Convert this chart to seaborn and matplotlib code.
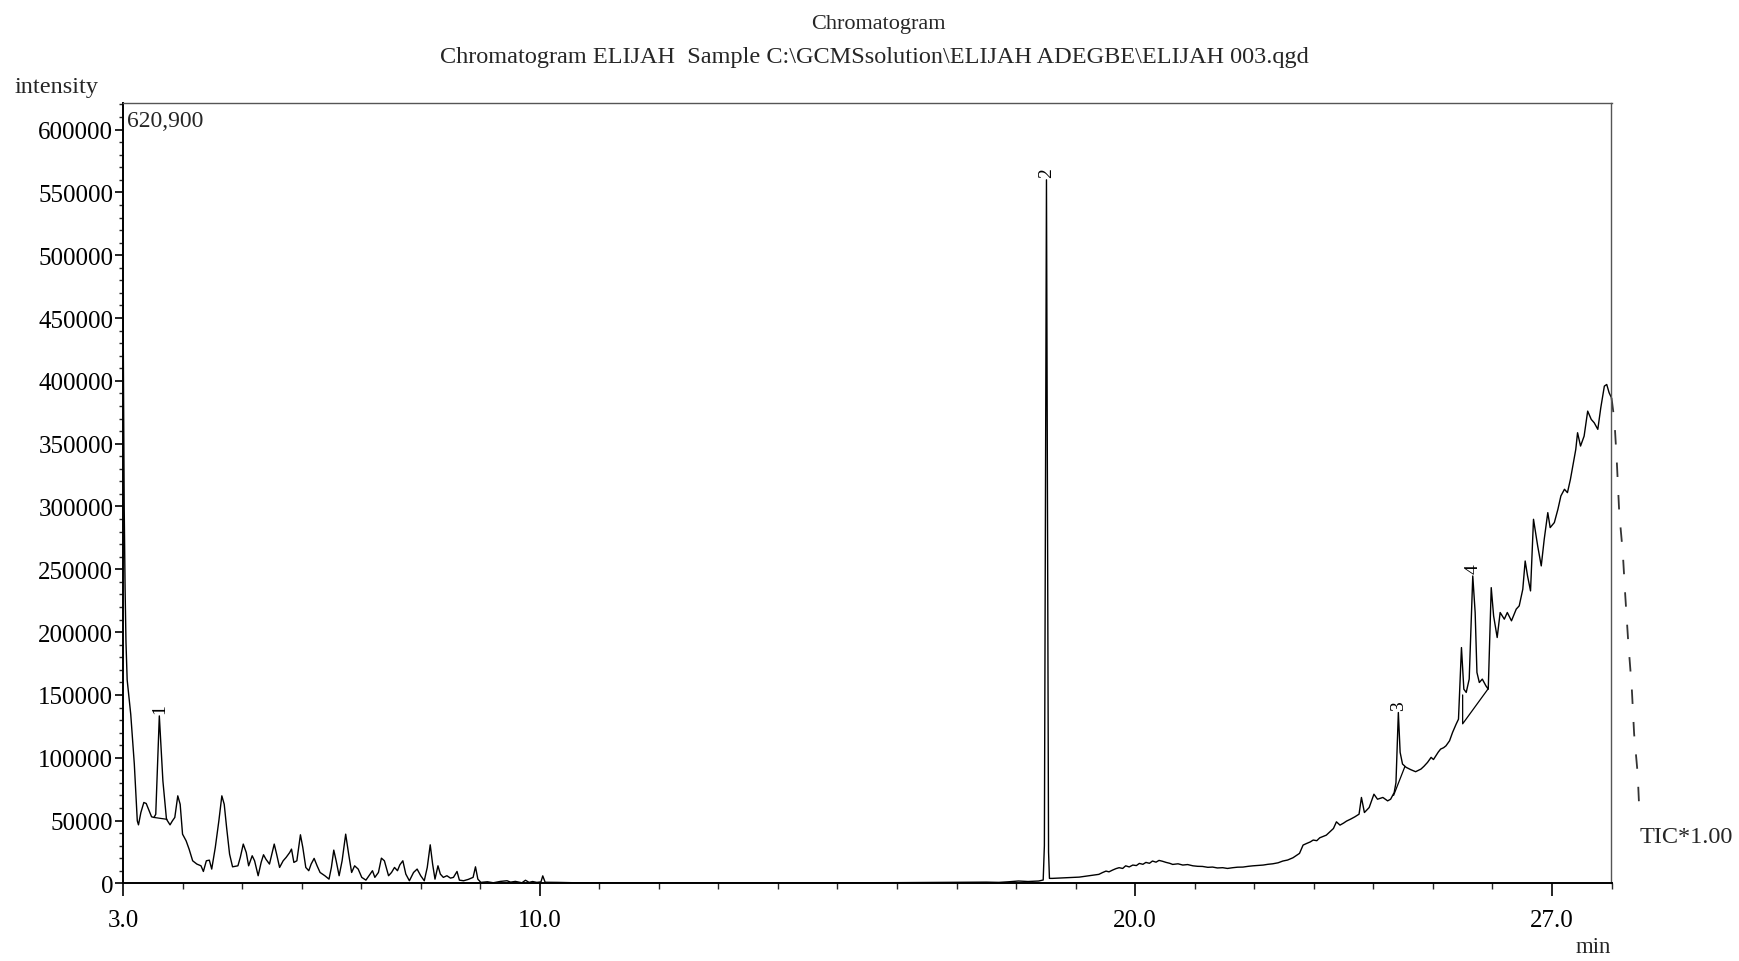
import numpy as np
import pandas as pd
import matplotlib
matplotlib.use("Agg")
import matplotlib.pyplot as plt
from matplotlib.ticker import MultipleLocator, FixedLocator, FuncFormatter
import seaborn as sns

# ---------------- data ----------------
time_min = [
    3.00, 3.01, 3.02, 3.035, 3.05, 3.07, 3.13, 3.19, 3.24, 3.26, 3.30, 3.35, 3.39, 3.44, 3.48,
    3.52, 3.55, 3.61, 3.67, 3.73, 3.79, 3.83, 3.87, 3.92, 3.96, 4.00, 4.06, 4.11, 4.17, 4.24,
    4.31, 4.35, 4.40, 4.45, 4.49, 4.55, 4.61, 4.66, 4.70, 4.74, 4.79, 4.84, 4.93, 4.97, 5.02,
    5.07, 5.11, 5.17, 5.21, 5.27, 5.32, 5.36, 5.40, 5.46, 5.50, 5.54, 5.58, 5.63, 5.69, 5.74,
    5.80, 5.83, 5.87, 5.92, 5.98, 6.02, 6.07, 6.12, 6.16, 6.21, 6.26, 6.31, 6.39, 6.46, 6.50,
    6.54, 6.58, 6.63, 6.68, 6.74, 6.79, 6.84, 6.89, 6.95, 7.01, 7.08, 7.15, 7.19, 7.23, 7.29,
    7.34, 7.39, 7.46, 7.51, 7.56, 7.61, 7.65, 7.70, 7.75, 7.81, 7.88, 7.94, 8.00, 8.06, 8.11,
    8.16, 8.20, 8.24, 8.29, 8.33, 8.38, 8.44, 8.50, 8.55, 8.61, 8.65, 8.72, 8.80, 8.88, 8.92,
    8.96, 9.01, 9.12, 9.22, 9.34, 9.45, 9.51, 9.59, 9.70, 9.76, 9.82, 9.88, 9.95, 10.02, 10.05,
    10.09, 10.3, 10.6, 11.0, 12.0, 13.0, 14.0, 15.0, 16.0, 17.0, 17.5, 17.71, 17.88, 18.04, 18.2,
    18.38, 18.455, 18.475, 18.51, 18.545, 18.56, 18.61, 18.83, 19.06, 19.22, 19.39, 19.45, 19.51, 19.56, 19.62,
    19.68, 19.73, 19.79, 19.84, 19.90, 19.96, 20.02, 20.07, 20.13, 20.18, 20.24, 20.29, 20.35, 20.40, 20.46,
    20.52, 20.58, 20.63, 20.72, 20.80, 20.88, 20.97, 21.05, 21.13, 21.22, 21.30, 21.38, 21.47, 21.55, 21.64,
    21.72, 21.81, 21.90, 21.98, 22.06, 22.15, 22.23, 22.31, 22.40, 22.48, 22.56, 22.65, 22.76, 22.82, 22.88,
    22.94, 22.99, 23.05, 23.10, 23.16, 23.21, 23.27, 23.33, 23.38, 23.44, 23.50, 23.55, 23.62, 23.69, 23.76,
    23.80, 23.85, 23.93, 24.01, 24.07, 24.16, 24.24, 24.29, 24.35, 24.38, 24.42, 24.45, 24.49, 24.55,
    24.63, 24.71, 24.80, 24.85, 24.91, 24.97, 25.01, 25.05, 25.09, 25.13, 25.18, 25.22, 25.28, 25.33, 25.39,
    25.43, 25.48, 25.52, 25.56,
    25.61, 25.67, 25.71, 25.74, 25.78, 25.83, 25.89, 25.93, 25.98, 26.02, 26.08, 26.13, 26.20, 26.25, 26.32,
    26.40, 26.45, 26.51, 26.55, 26.59, 26.64, 26.69, 26.76, 26.82, 26.87, 26.93, 26.97, 27.04, 27.10, 27.15,
    27.21, 27.26, 27.31, 27.35, 27.40, 27.43, 27.48, 27.54, 27.60, 27.66, 27.71, 27.77, 27.82, 27.88, 27.92,
    27.96, 28.00,
]
intensity = [
    470000, 390000, 300000, 235000, 192000, 162000, 134600, 95000, 49800, 46600, 56400, 64400, 63600, 57800, 53000,
    52500, 55000, 133300, 81600, 51100, 46600, 49800, 52500, 69700, 63000, 39200, 33900, 27300, 18000, 15400,
    14000, 9500, 18000, 18500, 11400, 28600, 49800, 69700, 63000, 44500, 23300, 13200, 14000, 20700, 31300,
    24600, 14000, 22000, 18000, 6100, 16700, 22800, 19300, 15400, 23300, 31300, 23300, 12700, 18000, 20700,
    24600, 27300, 16700, 18000, 38700, 28600, 12700, 10100, 15400, 19900, 14000, 8700, 6100, 3400, 12700,
    26500, 18000, 6100, 18000, 39200, 23300, 8700, 14000, 11400, 4800, 2600, 7400, 10100, 4800, 8700,
    20100, 18000, 6100, 8700, 12700, 10100, 14800, 18000, 7400, 2100, 8700, 11400, 6100, 2100, 12700,
    30700, 15400, 3400, 14000, 7400, 4800, 6100, 4200, 4800, 9500, 2600, 2100, 3200, 4800, 13200,
    3400, 800, 1300, 500, 1600, 2100, 1000, 1600, 500, 2500, 800, 1500, 800, 1200, 6000,
    900, 800, 500, 400, 300, 400, 300, 500, 600, 900, 1000, 800, 1300, 1900, 1500,
    1900, 2700, 30000, 560000, 25000, 4000, 4000, 4500, 5000, 6100, 7200, 8600, 9800, 9200, 10600,
    11800, 12500, 11900, 14000, 13100, 14600, 14200, 15900, 15200, 16700, 16000, 17800, 16900, 18300, 17600,
    16700, 16000, 15100, 15600, 14600, 15000, 14000, 13600, 13500, 12800, 13000, 12300, 12500, 11900, 12500,
    12900, 13000, 13600, 14000, 14300, 14600, 15200, 15600, 16400, 17800, 18600, 20400, 23900, 30500, 31800,
    33000, 34500, 34000, 36300, 37400, 38400, 41000, 43700, 49000, 46400, 48000, 49600, 51200, 53000, 55100,
    68400, 56400, 60400, 71000, 67000, 68400, 65700, 67000, 72300, 80200, 136000, 104300, 95000, 92400,
    90500, 88900, 91000, 93200, 96300, 100300, 98600, 101600, 104500, 106900, 108000, 109500, 113500, 120100, 126700,
    130700, 187700, 154600, 152000,
    162600, 244700, 215600, 167900, 159900, 162600, 157300, 154600, 235400, 212900, 195700, 215600, 210300, 215600, 209000,
    218300, 220900, 234100, 256600, 244700, 232800, 289800, 268600, 252700, 273900, 295100, 283200, 287200, 297800, 308400,
    313700, 311000, 321600, 332200, 345400, 358700, 348100, 356000, 375900, 369300, 366600, 361400, 378600, 395800, 397100,
    390500, 386500,
]

# trace continuing past the right frame (drawn broken in the reference)
tail_time = [28.00, 28.05, 28.09, 28.13, 28.19, 28.23, 28.28, 28.34, 28.38, 28.44, 28.47]
tail_intensity = [386500, 368000, 335000, 295000, 263000, 230000, 193000, 156000, 119000, 87000, 55000]

# integration baselines under peaks 1, 3 and 4
base1_time, base1_int = [3.52, 3.74], [52500, 51000]
base3_time, base3_int = [24.34, 24.53], [70000, 93000]
base4_time, base4_int = [25.50, 25.50, 25.93], [150000, 127000, 155000]

peak_labels = ["1", "2", "3", "4"]
peak_times = [3.61, 18.51, 24.42, 25.67]
peak_heights = [133300, 560000, 136000, 244700]

x_major = [3.0, 10.0, 20.0, 27.0]
x_major_labels = ["3.0", "10.0", "20.0", "27.0"]
y_max = 620900

# ---------------- plotting ----------------
sns.set_style("ticks")
plt.rcParams["font.family"] = ["Liberation Serif", "DejaVu Serif"]

W, H = 1740, 962
fig = plt.figure(figsize=(W / 100, H / 100), dpi=100, facecolor="white")
ax = fig.add_axes([123 / W, 77.6 / H, (1611.5 - 123) / W, (884.4 - 104.3) / H])
ax.set_facecolor("white")

df = pd.DataFrame({"t": time_min, "I": intensity})
sns.lineplot(data=df, x="t", y="I", ax=ax, sort=False, estimator=None,
             color="black", linewidth=1.0)

for bt, bi in [(base1_time, base1_int), (base3_time, base3_int), (base4_time, base4_int)]:
    sns.lineplot(x=bt, y=bi, ax=ax, sort=False, estimator=None, color="black", linewidth=0.9)

ax.plot(tail_time, tail_intensity, color="#333333", linewidth=1.3,
        linestyle=(0, (8, 10)), clip_on=False)

for lab, t, h in zip(peak_labels, peak_times, peak_heights):
    ax.annotate(lab, xy=(t, h), xytext=(0, 2), textcoords="offset points",
                rotation=90, ha="center", va="bottom", fontsize=14, color="black")

ax.set_xlim(3.0, 28.0)
ax.set_ylim(0, y_max)
ax.set_xlabel("")
ax.set_ylabel("")

ax.xaxis.set_major_locator(FixedLocator(x_major))
ax.set_xticklabels(x_major_labels)
ax.xaxis.set_minor_locator(MultipleLocator(1.0))
ax.yaxis.set_major_locator(MultipleLocator(50000))
ax.yaxis.set_minor_locator(MultipleLocator(10000))
ax.yaxis.set_major_formatter(FuncFormatter(lambda v, p: f"{v:.0f}"))

ax.tick_params(axis="x", which="major", direction="out", length=9.5, width=1.2,
               pad=9, labelsize=18, colors="black")
ax.tick_params(axis="x", which="minor", direction="out", length=4, width=1.0)
ax.tick_params(axis="y", which="major", direction="out", length=6, width=1.2,
               pad=1, labelsize=18, colors="black")
ax.tick_params(axis="y", which="minor", direction="out", length=3, width=1.0)

for side in ["left", "bottom"]:
    ax.spines[side].set_color("black")
    ax.spines[side].set_linewidth(1.4)
for side in ["top", "right"]:
    ax.spines[side].set_visible(True)
    ax.spines[side].set_color("#555555")
    ax.spines[side].set_linewidth(1.0)

def fx(px):
    return px / W

def fy(py):
    return 1 - py / H

fig.text(fx(878), fy(25), "Chromatogram", ha="center", va="center", fontsize=16)
fig.text(fx(874), fy(57), "Chromatogram ELIJAH  Sample C:\\GCMSsolution\\ELIJAH ADEGBE\\ELIJAH 003.qgd",
         ha="center", va="center", fontsize=17.5)
fig.text(fx(15), fy(88), "intensity", ha="left", va="center", fontsize=17.5)
fig.text(fx(127), fy(122), "620,900", ha="left", va="center", fontsize=17)
fig.text(fx(1640), fy(838), "TIC*1.00", ha="left", va="center", fontsize=17.5)
fig.text(fx(1611), fy(948), "min", ha="right", va="center", fontsize=16.5)

fig.savefig("out.png", dpi=100, facecolor="white")
